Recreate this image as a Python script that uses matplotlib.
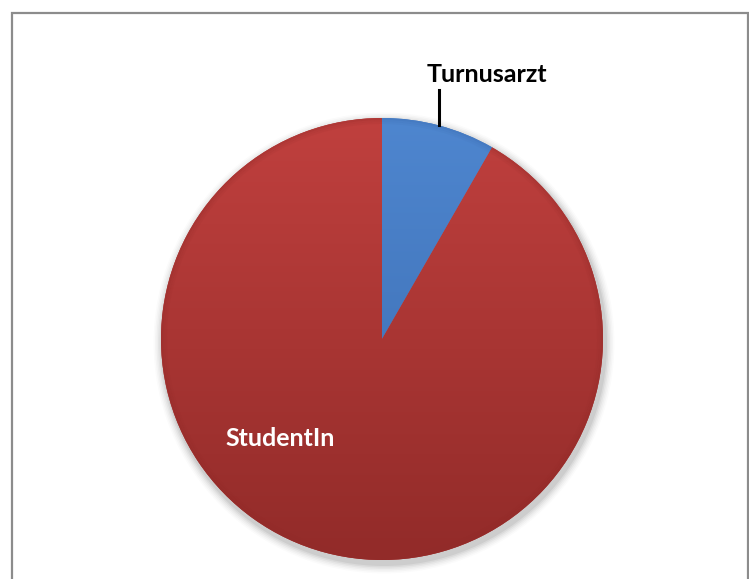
import numpy as np
import matplotlib
matplotlib.use("Agg")
import matplotlib.pyplot as plt
from matplotlib.patches import Rectangle, Ellipse, Wedge
from matplotlib.colors import LinearSegmentedColormap

labels = ["Turnusarzt", "StudentIn"]
values = [8.3, 91.7]
colors = ["#4177C0", "#B13836"]
grad_top = ["#4E86CF", "#C0403E"]
grad_bot = ["#3A6AAE", "#922B29"]

W, H = 749, 579
fig = plt.figure(figsize=(W / 100, H / 100), dpi=100)
ax = fig.add_axes([0, 0, 1, 1])

cx, cy, r = 382, H - 339, 221

# border frame
ax.add_patch(Rectangle((12, -5), 735.5, H - 13 + 5, fill=False,
                       edgecolor="#8C8C8C", linewidth=1.6, zorder=0))

# soft shadow
for i, a in enumerate(np.linspace(0.05, 0.015, 6)):
    ax.add_patch(Ellipse((cx + 2, cy - 4), 2 * (r + 2 + i * 1.5), 2 * (r + 2 + i * 1.5),
                         facecolor="black", alpha=a, edgecolor="none", zorder=1))

wedges, _ = ax.pie(values, colors=colors, startangle=90, counterclock=False,
                   center=(cx, cy), radius=r, frame=True,
                   wedgeprops=dict(edgecolor="none", zorder=2))

# vertical gradient fill clipped to each wedge
grad = np.linspace(0, 1, 256).reshape(-1, 1)
for w, ct, cb in zip(wedges, grad_top, grad_bot):
    cmap = LinearSegmentedColormap.from_list("g", [cb, ct])
    im = ax.imshow(grad, cmap=cmap, extent=(cx - r, cx + r, cy - r, cy + r),
                   origin="lower", aspect="auto", zorder=3)
    im.set_clip_path(w)

# darker rim for bevel effect
theta = 90
for v, cb in zip(values, grad_bot):
    ang = v / sum(values) * 360
    for k, a in enumerate([0.35, 0.2, 0.1]):
        ax.add_patch(Wedge((cx, cy), r - k * 2, theta - ang, theta, width=2,
                           facecolor=cb, alpha=a, edgecolor="none", zorder=4))
    theta -= ang

ax.set_xlim(0, W)
ax.set_ylim(0, H)
ax.set_aspect("equal")
ax.axis("off")

# labels
ax.plot([439, 439], [H - 90, H - 125], color="black", linewidth=2.2, zorder=5)
ax.text(487, H - 75, labels[0], ha="center", va="center", fontsize=18,
        fontweight="bold", family="Lato", color="black", zorder=6)
ax.text(280, H - 439, labels[1], ha="center", va="center", fontsize=18,
        fontweight="bold", family="Lato", color="white", zorder=6)

fig.savefig("out.png", dpi=100)
